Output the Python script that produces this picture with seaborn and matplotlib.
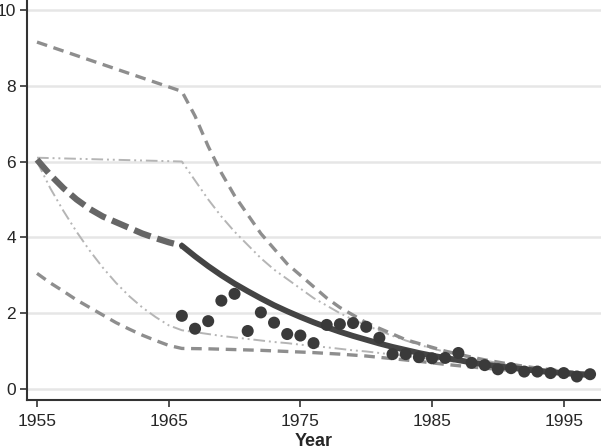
import matplotlib
matplotlib.use("Agg")
import matplotlib.pyplot as plt
import seaborn as sns
import pandas as pd

# ---- data ----
obs_years = list(range(1966, 1998))
obs_values = [1.93, 1.59, 1.79, 2.33, 2.51, 1.53, 2.02, 1.75, 1.45, 1.41,
              1.21, 1.69, 1.71, 1.74, 1.64, 1.35, 0.92, 0.92, 0.84, 0.81,
              0.82, 0.95, 0.69, 0.63, 0.52, 0.55, 0.46, 0.46, 0.42, 0.42,
              0.33, 0.39]

fit_years = list(range(1966, 1998))
fit_values = [3.78, 3.50, 3.24, 3.00, 2.78, 2.58, 2.39, 2.21, 2.05, 1.90,
              1.76, 1.63, 1.51, 1.40, 1.30, 1.20, 1.11, 1.03, 0.95, 0.88,
              0.82, 0.76, 0.70, 0.65, 0.60, 0.56, 0.52, 0.48, 0.45, 0.42,
              0.39, 0.37]

back_years = list(range(1955, 1967))
back_values = [6.05, 5.65, 5.30, 5.00, 4.75, 4.55, 4.40, 4.25, 4.10, 3.98,
               3.87, 3.78]

upper_years = [1955] + list(range(1966, 1998))
upper_values = [9.15, 7.85, 7.20, 6.40, 5.70, 5.10, 4.60, 4.10, 3.70, 3.30,
                3.00, 2.70, 2.40, 2.15, 1.95, 1.75, 1.60, 1.45, 1.30, 1.20,
                1.10, 1.00, 0.92, 0.84, 0.77, 0.71, 0.65, 0.60, 0.55, 0.51,
                0.47, 0.44, 0.41]

upper_dd_years = [1955] + list(range(1966, 1998))
upper_dd_values = [6.10, 6.00, 5.50, 5.00, 4.55, 4.15, 3.80, 3.45, 3.15, 2.90,
                   2.65, 2.40, 2.20, 2.00, 1.83, 1.68, 1.54, 1.40, 1.28, 1.17,
                   1.07, 0.98, 0.90, 0.82, 0.75, 0.69, 0.63, 0.58, 0.53, 0.49,
                   0.45, 0.42, 0.39]

lower_dd_years = list(range(1955, 1998))
lower_dd_values = [6.00, 5.30, 4.70, 4.15, 3.65, 3.20, 2.80, 2.45, 2.15, 1.90,
                   1.68, 1.55, 1.50, 1.45, 1.40, 1.36, 1.32, 1.28, 1.24, 1.21,
                   1.17, 1.13, 1.10, 1.06, 1.02, 0.99, 0.95, 0.91, 0.87, 0.83,
                   0.79, 0.75, 0.71, 0.67, 0.63, 0.59, 0.55, 0.52, 0.49, 0.46,
                   0.43, 0.40, 0.37]

lower_years = list(range(1955, 1967)) + [1968, 1970, 1972, 1974, 1976, 1978,
                                         1980, 1982, 1984, 1986, 1988, 1990,
                                         1992, 1994, 1996, 1997]
lower_values = [3.05, 2.80, 2.58, 2.35, 2.15, 1.95, 1.75, 1.58, 1.42, 1.28,
                1.15, 1.07, 1.06, 1.04, 1.02, 0.99, 0.96, 0.92, 0.87, 0.80,
                0.73, 0.65, 0.58, 0.52, 0.47, 0.42, 0.38, 0.36]

x_ticks = [1955, 1965, 1975, 1985, 1995]
y_ticks = [0, 2, 4, 6, 8, 10]
x_label = "Year"

# ---- plot ----
sns.set_theme(style="white")
plt.rcParams["font.family"] = ["Liberation Sans", "DejaVu Sans"]

fig = plt.figure(figsize=(6.01, 4.48), dpi=100)
ax = fig.add_axes([27 / 601, 48 / 448, 574 / 601, 400 / 448])

for yt in y_ticks:
    ax.axhline(yt, color="#e6e6e6", lw=1.8, zorder=0)

dash_gray = "#8e8e8e"
dd_gray = "#b5b5b5"

sns.lineplot(x=upper_dd_years, y=upper_dd_values, ax=ax, color=dd_gray,
             lw=1.4, zorder=2).lines[-1].set_dashes([6, 2, 1, 2, 1, 2])
sns.lineplot(x=lower_dd_years, y=lower_dd_values, ax=ax, color=dd_gray,
             lw=1.4, zorder=2).lines[-1].set_dashes([6, 2, 1, 2, 1, 2])
sns.lineplot(x=upper_years, y=upper_values, ax=ax, color=dash_gray,
             lw=2.4, zorder=3).lines[-1].set_dashes([3.2, 2.0])
sns.lineplot(x=lower_years, y=lower_values, ax=ax, color=dash_gray,
             lw=2.4, zorder=3).lines[-1].set_dashes([3.2, 2.0])
sns.lineplot(x=back_years, y=back_values, ax=ax, color="#666666",
             lw=4.5, zorder=4).lines[-1].set_dashes([2.8, 1.1])
sns.lineplot(x=fit_years, y=fit_values, ax=ax, color="#444444",
             lw=4.2, zorder=5)
sns.scatterplot(x=obs_years, y=obs_values, ax=ax, color="#3a3a3a", s=75,
                edgecolor="none", zorder=6)

ax.set_xlim(1954.24, 1997.83)
ax.set_ylim(-0.29, 10.26)
ax.set_xticks(x_ticks)
ax.set_yticks(y_ticks)
ax.tick_params(axis="both", which="major", direction="out", length=5,
               width=1.2, color="#333333", labelsize=12.5, pad=3,
               bottom=True, left=True)
ax.tick_params(axis="x", pad=5)
for s in ["top", "right"]:
    ax.spines[s].set_visible(False)
for s in ["left", "bottom"]:
    ax.spines[s].set_color("#333333")
    ax.spines[s].set_linewidth(1.5)
ax.set_xlabel(x_label, fontsize=13, fontweight="bold", labelpad=3)
ax.set_ylabel("")
ax.grid(False)

fig.savefig("out.png", dpi=100)
